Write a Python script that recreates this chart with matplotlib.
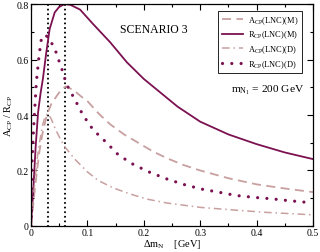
import matplotlib
matplotlib.use("Agg")
import matplotlib.pyplot as plt
from matplotlib.ticker import MultipleLocator, FuncFormatter

plt.rcParams['font.family'] = 'Liberation Serif'
plt.rcParams['mathtext.fontset'] = 'custom'
plt.rcParams['mathtext.rm'] = 'Liberation Serif'
plt.rcParams['mathtext.it'] = 'Liberation Serif:italic'

# ---- data ----
x_AM = [0, 0.005, 0.01, 0.015, 0.02, 0.028, 0.036, 0.046, 0.055, 0.062, 0.075, 0.09, 0.1,
        0.12, 0.14, 0.165, 0.19, 0.215, 0.24, 0.27, 0.3, 0.35, 0.4, 0.45, 0.5]
A_M = [0, 0.10, 0.19, 0.27, 0.33, 0.40, 0.44, 0.47, 0.495, 0.503, 0.49, 0.465, 0.45,
       0.405, 0.367, 0.33, 0.30, 0.27, 0.245, 0.22, 0.20, 0.172, 0.15, 0.135, 0.122]

x_RM = [0, 0.004, 0.008, 0.0125, 0.017, 0.021, 0.027, 0.033, 0.042, 0.05, 0.06, 0.07, 0.087,
        0.11, 0.14, 0.17, 0.2, 0.23, 0.26, 0.3, 0.35, 0.4, 0.45, 0.5]
R_M = [0, 0.13, 0.28, 0.41, 0.48, 0.53, 0.625, 0.71, 0.77, 0.79, 0.80, 0.797, 0.78,
       0.728, 0.663, 0.59, 0.53, 0.48, 0.43, 0.376, 0.33, 0.295, 0.265, 0.241]

x_AD = [0, 0.005, 0.01, 0.015, 0.02, 0.025, 0.03, 0.036, 0.043, 0.052, 0.06, 0.078, 0.1,
        0.119, 0.146, 0.176, 0.205, 0.24, 0.3, 0.356, 0.416, 0.5]
A_D = [0, 0.12, 0.23, 0.30, 0.36, 0.395, 0.405, 0.385, 0.35, 0.313, 0.285, 0.24, 0.195,
       0.164, 0.137, 0.115, 0.097, 0.083, 0.067, 0.058, 0.049, 0.04]

x_RD = [0, 0.001, 0.002, 0.004, 0.0065, 0.0095, 0.014, 0.018, 0.025, 0.032, 0.042, 0.048,
        0.054, 0.063, 0.078, 0.092, 0.11, 0.133, 0.155, 0.182, 0.21, 0.24, 0.27, 0.302,
        0.332, 0.363, 0.395, 0.426, 0.458, 0.5]
R_D = [0, 0.16, 0.24, 0.33, 0.42, 0.52, 0.61, 0.67, 0.69, 0.675, 0.64, 0.604,
       0.57, 0.51, 0.455, 0.40, 0.347, 0.302, 0.256, 0.221, 0.194, 0.17, 0.15, 0.133,
       0.122, 0.11, 0.103, 0.098, 0.091, 0.083]

vlines_x = [0.03, 0.06]

purple = '#7b1150'
pink = '#c8a0a0'

fig = plt.figure(figsize=(3.2, 2.53), dpi=100)
ax = fig.add_axes([0.097, 0.103, 0.881, 0.877])

for xv in vlines_x:
    ax.plot([xv, xv], [0, 0.8], color='black', lw=1.5, linestyle=(0, (0.01, 2.2)),
            dash_capstyle='round')

ax.plot(x_AM, A_M, color=pink, lw=1.3, linestyle=(0, (5, 3)), label=r'A$_{\rm CP}$(LNC)(M)')
ax.plot(x_RM, R_M, color=purple, lw=1.3, label=r'R$_{\rm CP}$(LNC)(M)')
ax.plot(x_AD, A_D, color=pink, lw=1.1, linestyle=(0, (5, 2.5, 1, 2.5)), label=r'A$_{\rm CP}$(LNC)(D)')
ax.plot(x_RD, R_D, color=purple, lw=2.3, linestyle=(0, (0.01, 2.9)), dash_capstyle='round',
        label=r'R$_{\rm CP}$(LNC)(D)')

ax.set_xlim(0, 0.5)
ax.set_ylim(0, 0.8)
ax.xaxis.set_major_locator(MultipleLocator(0.1))
ax.xaxis.set_minor_locator(MultipleLocator(0.05))
ax.yaxis.set_major_locator(MultipleLocator(0.2))
ax.yaxis.set_minor_locator(MultipleLocator(0.1))
fmt = FuncFormatter(lambda v, p: '0' if abs(v) < 1e-9 else '%.1f' % v)
ax.xaxis.set_major_formatter(fmt)
ax.yaxis.set_major_formatter(fmt)
ax.tick_params(which='both', direction='in', top=True, right=True, labelsize=7, width=0.8, pad=1.5)
ax.tick_params(which='major', length=4)
ax.tick_params(which='minor', length=2)
for s in ax.spines.values():
    s.set_linewidth(0.9)

ax.set_xlabel(r'$\Delta$m$_{\rm N}$    [GeV]', fontsize=7.5, labelpad=0)
ax.set_ylabel(r'A$_{\rm CP}$ / R$_{\rm CP}$', fontsize=7.5, labelpad=1)

ax.text(0.315, 0.887, 'SCENARIO 3', transform=ax.transAxes, fontsize=8.5, va='center')
ax.text(0.71, 0.615, r'm$_{\rm N_1}$ = 200 GeV', transform=ax.transAxes, fontsize=8.2, va='center')

leg = ax.legend(loc='upper right', bbox_to_anchor=(0.97, 0.98), fontsize=6, frameon=True,
                fancybox=False, edgecolor='black', framealpha=1, handlelength=2.6,
                labelspacing=0.35, borderpad=0.4, handletextpad=0.6, borderaxespad=0.3)
leg.get_frame().set_linewidth(0.6)

fig.savefig('out.png', dpi=100)
